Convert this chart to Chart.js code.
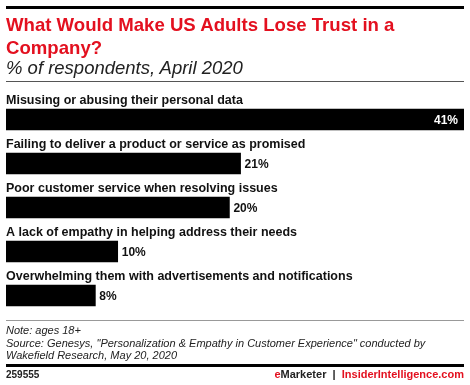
<!DOCTYPE html>
<html>
<head>
<meta charset="utf-8">
<script src="https://cdn.jsdelivr.net/npm/chart.js@4"></script>
<style>
  body { margin: 0; background: #fff; font-family: "Liberation Sans", Arial, sans-serif; }
  #wrap { position: relative; width: 470px; height: 385px; overflow: hidden; }
  #grafico { position: absolute; left: 0; top: 0; }
  .abs { position: absolute; white-space: nowrap; }
  .rule { position: absolute; left: 6px; width: 458px; }
</style>
</head>
<body>
<div id="wrap">
  <canvas id="grafico" width="470" height="385"></canvas>
  <div class="rule" style="top:6px;height:3px;background:#000"></div>
  <div class="abs" style="left:6px;top:13px;font-weight:bold;font-size:18.6px;line-height:23px;color:#e3101f">What Would Make US Adults Lose Trust in a<br>Company?</div>
  <div class="abs" style="left:6px;top:57px;font-style:italic;font-size:18.5px;color:#222">% of respondents, April 2020</div>
  <div class="rule" style="top:81px;height:1px;background:#555"></div>

  <div class="rule" style="top:320px;height:1px;background:#999"></div>
  <div class="abs" style="left:6px;top:324px;font-style:italic;font-size:11px;line-height:12.5px;color:#222">Note: ages 18+<br>Source: Genesys, "Personalization &amp; Empathy in Customer Experience" conducted by<br>Wakefield Research, May 20, 2020</div>
  <div class="rule" style="top:364px;height:3px;background:#000"></div>
  <div class="abs" style="left:6px;top:369px;font-weight:bold;font-size:10px;color:#222">259555</div>
  <div class="abs" style="right:6px;top:368px;font-weight:bold;font-size:11px;color:#222"><span style="color:#e3101f">e</span>Marketer &nbsp;|&nbsp; <span style="color:#e3101f">InsiderIntelligence.com</span></div>
</div>
<script>
// dados do gráfico
const categorias = [
    'Misusing or abusing their personal data',
    'Failing to deliver a product or service as promised',
    'Poor customer service when resolving issues',
    'A lack of empathy in helping address their needs',
    'Overwhelming them with advertisements and notifications'
];
const valores = [41, 21, 20, 10, 8];

// rótulos das categorias acima das barras e valores
const rotulos = {
    id: 'rotulos',
    afterDatasetsDraw(chart) {
        const c = chart.ctx;
        const meta = chart.getDatasetMeta(0);
        c.save();
        meta.data.forEach((bar, i) => {
            const top = bar.y - bar.height / 2;
            c.fillStyle = '#111';
            c.font = 'bold 12.5px "Liberation Sans", Arial, sans-serif';
            c.textAlign = 'left';
            c.textBaseline = 'alphabetic';
            c.fillText(categorias[i], 6, top - 5);

            const txt = valores[i] + '%';
            c.font = 'bold 12px "Liberation Sans", Arial, sans-serif';
            c.textBaseline = 'middle';
            if (i === 0) {
                c.fillStyle = '#fff';
                c.textAlign = 'right';
                c.fillText(txt, bar.x - 6, bar.y + 1);
            } else {
                c.fillStyle = '#111';
                c.textAlign = 'left';
                c.fillText(txt, bar.x + 4, bar.y + 1);
            }
        });
        c.restore();
    }
};

const ctx = document.getElementById('grafico').getContext('2d');
new Chart(ctx, {
    type: 'bar',
    data: {
        labels: categorias,
        datasets: [{
            data: valores,
            backgroundColor: '#000',
            borderWidth: 0,
            barThickness: 21
        }]
    },
    options: {
        indexAxis: 'y',
        responsive: false,
        animation: false,
        layout: { padding: { left: 6, right: 6, top: 97.5, bottom: 67.5 } },
        plugins: { legend: { display: false }, tooltip: { enabled: false } },
        scales: {
            x: { display: false, min: 0, max: 41 },
            y: { display: false }
        }
    },
    plugins: [rotulos]
});
</script>
</body>
</html>
